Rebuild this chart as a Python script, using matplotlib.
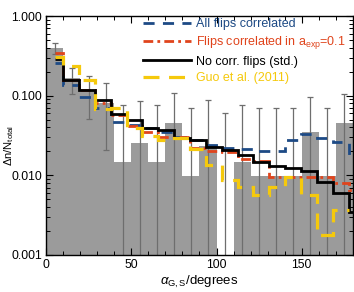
import matplotlib
matplotlib.use("Agg")
import matplotlib.pyplot as plt
from matplotlib.ticker import MultipleLocator, LogLocator, FuncFormatter, NullFormatter

plt.rcParams['font.family'] = ['Liberation Sans', 'DejaVu Sans']
plt.rcParams['mathtext.fontset'] = 'custom'
plt.rcParams['mathtext.rm'] = 'Liberation Sans'
plt.rcParams['mathtext.it'] = 'Liberation Sans:italic'

# observed histogram (10 degree bins)
bin_centres = [5, 15, 25, 35, 45, 55, 65, 75, 85, 95, 105, 115, 125, 135, 145, 155, 165, 175]
hist_frac = [0.40, 0.165, 0.114, 0.082, 0.0147, 0.0255, 0.0147, 0.0458, 0.0098,
             0.023, 0.0, 0.0148, 0.0098, 0.0098, 0.0098, 0.035, 0.0098, 0.046]
hist_err = [0.062, 0.060, 0.063, 0.061, 0.062, 0.061, 0.062, 0.061, 0.061,
            0.064, 0.060, 0.062, 0.061, 0.061, 0.061, 0.061, 0.060, 0.060]

# model histograms
model_edges = [5, 10, 19.3, 28.6, 37.9, 47.2, 56.5, 65.8, 75.1, 84.4, 93.7, 103.0,
               112.3, 121.6, 130.9, 140.2, 149.5, 158.8, 168.1, 177.4, 180]
all_corr = [0.259, 0.136, 0.097, 0.070, 0.047, 0.043, 0.039, 0.035, 0.0305, 0.028,
            0.024, 0.0222, 0.0214, 0.0202, 0.0202, 0.0278, 0.0326, 0.0292, 0.0263, 0.0164]
aexp_corr = [0.34, 0.157, 0.118, 0.082, 0.057, 0.042, 0.035, 0.0305, 0.030, 0.022,
             0.0203, 0.0196, 0.016, 0.0153, 0.0094, 0.0094, 0.0094, 0.0094, 0.0080, 0.0066]
no_corr = [0.289, 0.157, 0.118, 0.088, 0.059, 0.050, 0.039, 0.037, 0.0294, 0.0277,
           0.0229, 0.0208, 0.018, 0.0148, 0.0132, 0.0125, 0.0113, 0.0083, 0.0060, 0.0035]
guo = [0.308, 0.236, 0.157, 0.068, 0.070, 0.039, 0.031, 0.028, 0.029, 0.0213,
       0.0134, 0.0087, 0.0072, 0.0056, 0.0072, 0.0096, 0.0057, 0.0018, 0.0037]

labels = ["All flips correlated", r"Flips correlated in a$_{\rm exp}$=0.1",
          "No corr. flips (std.)", "Guo et al. (2011)"]
colors = ["#1d4a85", "#e0441c", "black", "#f5c90c"]

fig = plt.figure(figsize=(3.54, 2.92), dpi=100)
ax = fig.add_axes([0.130, 0.127, 0.867, 0.818])
ax.set_yscale("log")

ax.bar(bin_centres, hist_frac, width=10, color="#9b9b9b", zorder=1)
ax.errorbar(bin_centres, hist_frac, yerr=hist_err, fmt="none", ecolor="#6e6e6e",
            elinewidth=0.9, capsize=2.3, capthick=0.9, zorder=2)

ax.stairs(all_corr, model_edges, baseline=None, color=colors[0], lw=2.0,
          linestyle=(0, (4, 3)), label=labels[0], zorder=3)
ax.stairs(aexp_corr, model_edges, baseline=None, color=colors[1], lw=2.0,
          linestyle=(0, (3.5, 1.5, 1, 1.5)), label=labels[1], zorder=4)
ax.stairs(no_corr, model_edges, baseline=None, color=colors[2], lw=2.0,
          label=labels[2], zorder=5)
ax.stairs(guo, model_edges[:-1], baseline=None, color=colors[3], lw=2.3,
          linestyle=(0, (5, 3)), label=labels[3], zorder=6)

ax.set_xlim(0, 180)
ax.set_ylim(0.001, 1.0)
ax.xaxis.set_major_locator(MultipleLocator(50))
ax.xaxis.set_minor_locator(MultipleLocator(10))
ax.yaxis.set_major_locator(LogLocator(base=10))
ax.yaxis.set_minor_locator(LogLocator(base=10, subs=range(2, 10)))
ax.yaxis.set_major_formatter(FuncFormatter(lambda v, p: "%.3f" % v))
ax.yaxis.set_minor_formatter(NullFormatter())
ax.tick_params(which="both", direction="in", top=True, right=True, labelsize=8.8,
               colors="black", pad=3)
ax.tick_params(which="major", length=5, width=0.8)
ax.tick_params(which="minor", length=2.8, width=0.7)
for s in ax.spines.values():
    s.set_linewidth(1.0)

ax.set_xlabel(r"$\alpha_{\rm G,S}$/degrees", fontsize=9.5, labelpad=2)
ax.set_ylabel(r"$\Delta$n/N$_{\rm total}$", fontsize=8)
ax.yaxis.set_label_coords(-0.098, 0.46)

leg = ax.legend(loc="upper left", bbox_to_anchor=(0.31, 1.0), frameon=False,
                fontsize=9, handlelength=3.8, handletextpad=0.4, labelspacing=0.35,
                borderpad=0.15, borderaxespad=0)
for t, c in zip(leg.get_texts(), colors):
    t.set_color(c)

fig.savefig("out.png", dpi=100)
